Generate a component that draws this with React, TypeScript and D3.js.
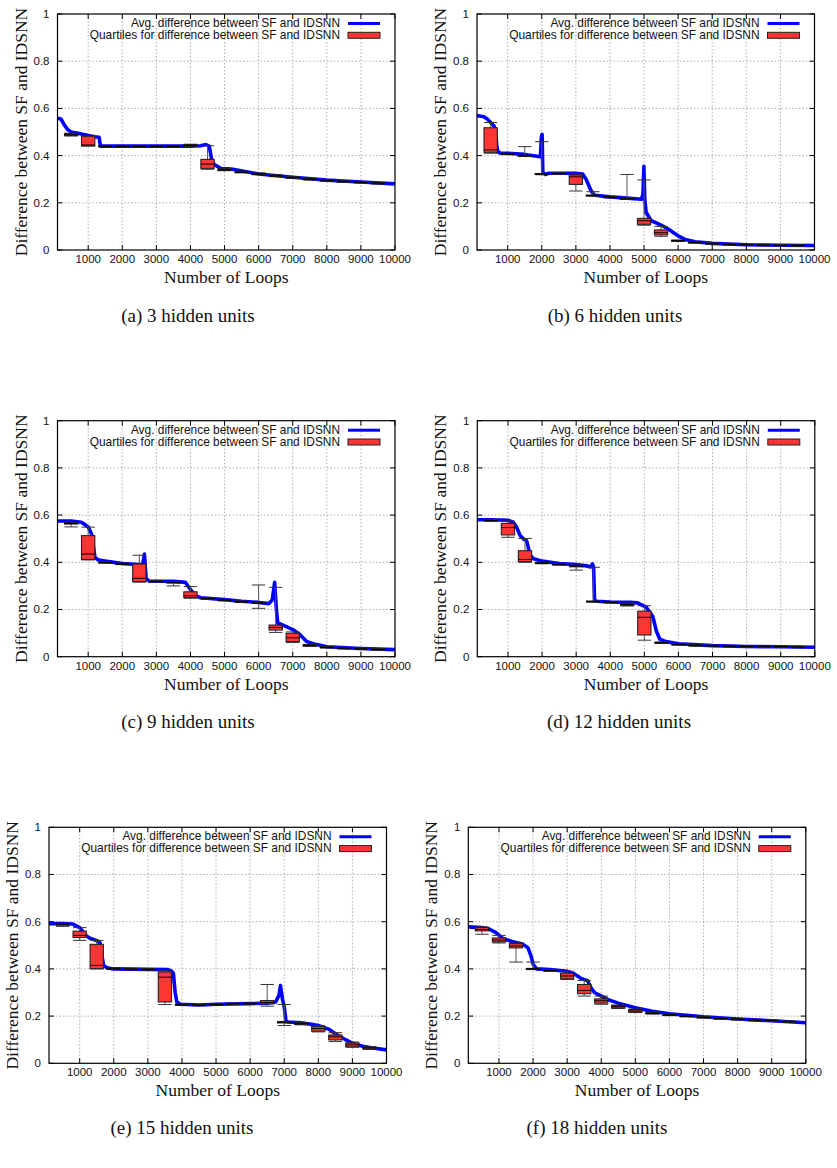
import React from "react";
import * as d3 from "d3";

// tick values shared by all six panels
const xTicks = [1000, 2000, 3000, 4000, 5000, 6000, 7000, 8000, 9000, 10000];
const yTicks = [0, 0.2, 0.4, 0.6, 0.8, 1];
const yTickLabels = ["0", "0.2", "0.4", "0.6", "0.8", "1"];
const legendLabels = [
  "Avg. difference between SF and IDSNN",
  "Quartiles for difference between SF and IDSNN",
];
const captions = [
  "(a) 3 hidden units",
  "(b) 6 hidden units",
  "(c) 9 hidden units",
  "(d) 12 hidden units",
  "(e) 15 hidden units",
  "(f) 18 hidden units",
];

// average curve: [loop, difference]
const avgA: [number, number][] = [
  [100, 0.558], [200, 0.555], [300, 0.53], [400, 0.51], [500, 0.5], [700, 0.495],
  [1000, 0.485], [1200, 0.48], [1320, 0.478], [1360, 0.44], [2000, 0.44], [3000, 0.44],
  [4000, 0.44], [4300, 0.442], [4450, 0.447], [4550, 0.44], [4620, 0.385], [4700, 0.362],
  [4900, 0.345], [5200, 0.343], [6000, 0.322], [7000, 0.308], [8000, 0.296], [9000, 0.288],
  [10000, 0.28],
];
const avgB: [number, number][] = [
  [100, 0.57], [300, 0.565], [400, 0.555], [500, 0.54], [600, 0.525], [650, 0.5],
  [680, 0.44], [720, 0.415], [800, 0.41], [1000, 0.41], [1500, 0.405], [1960, 0.395],
  [1990, 0.48], [2010, 0.49], [2030, 0.33], [2100, 0.32], [2200, 0.325], [3000, 0.325],
  [3200, 0.322], [3300, 0.3], [3450, 0.25], [3550, 0.232], [4000, 0.225], [4500, 0.22],
  [4930, 0.215], [4970, 0.24], [4995, 0.355], [5020, 0.22], [5060, 0.16], [5200, 0.125],
  [5500, 0.105], [5700, 0.09], [5900, 0.07], [6000, 0.06], [6200, 0.045], [6500, 0.035],
  [7000, 0.028], [8000, 0.022], [9000, 0.02], [10000, 0.019],
];
const avgC: [number, number][] = [
  [100, 0.575], [500, 0.575], [800, 0.57], [900, 0.56], [1000, 0.55], [1100, 0.52],
  [1150, 0.47], [1200, 0.42], [1300, 0.41], [1500, 0.405], [2000, 0.395], [2500, 0.39],
  [2600, 0.39], [2650, 0.435], [2700, 0.33], [2800, 0.32], [3500, 0.32], [3850, 0.315],
  [4000, 0.285], [4150, 0.258], [4300, 0.25], [5000, 0.242], [5500, 0.235], [6000, 0.23],
  [6300, 0.225], [6400, 0.24], [6470, 0.315], [6520, 0.2], [6560, 0.143], [6700, 0.135],
  [7000, 0.115], [7200, 0.095], [7400, 0.065], [7600, 0.055], [8000, 0.042], [9000, 0.035],
  [10000, 0.03],
];
const avgD: [number, number][] = [
  [100, 0.58], [500, 0.58], [1000, 0.578], [1150, 0.57], [1250, 0.55], [1350, 0.515],
  [1450, 0.5], [1550, 0.49], [1650, 0.43], [1750, 0.415], [2000, 0.405], [2500, 0.395],
  [3000, 0.39], [3300, 0.385], [3420, 0.38], [3480, 0.393], [3510, 0.38], [3540, 0.24],
  [3600, 0.235], [4000, 0.232], [4600, 0.23], [4800, 0.228], [5050, 0.21], [5150, 0.19],
  [5250, 0.17], [5350, 0.11], [5450, 0.075], [5600, 0.065], [6000, 0.055], [7000, 0.047],
  [8000, 0.043], [9000, 0.042], [10000, 0.04],
];
const avgE: [number, number][] = [
  [100, 0.592], [500, 0.592], [800, 0.59], [1000, 0.575], [1200, 0.54], [1300, 0.53],
  [1500, 0.52], [1600, 0.51], [1650, 0.46], [1700, 0.415], [1800, 0.405], [2000, 0.4],
  [3000, 0.398], [3600, 0.397], [3700, 0.39], [3750, 0.38], [3800, 0.3], [3850, 0.26],
  [3950, 0.25], [4500, 0.247], [5000, 0.25], [6000, 0.253], [6500, 0.255], [6750, 0.26],
  [6850, 0.29], [6890, 0.33], [6950, 0.27], [7000, 0.24], [7050, 0.18], [7100, 0.175],
  [7500, 0.172], [7800, 0.165], [8000, 0.16], [8300, 0.145], [8500, 0.125], [8800, 0.1],
  [9000, 0.085], [9300, 0.072], [9600, 0.065], [10000, 0.057],
];
const avgF: [number, number][] = [
  [100, 0.578], [500, 0.575], [700, 0.57], [900, 0.555], [1100, 0.53], [1400, 0.515],
  [1700, 0.505], [1850, 0.49], [1950, 0.45], [2000, 0.42], [2100, 0.4], [2500, 0.397],
  [3000, 0.39], [3200, 0.38], [3400, 0.36], [3600, 0.35], [3700, 0.32], [3800, 0.3],
  [4000, 0.285], [4200, 0.27], [4500, 0.255], [5000, 0.235], [5500, 0.22], [6000, 0.21],
  [7000, 0.197], [8000, 0.188], [9000, 0.18], [10000, 0.172],
];

// quartile boxes: [loop, min, q1, median, q3, max]
const boxesA: number[][] = [
  [500, 0.483, 0.485, 0.489, 0.493, 0.495], [1000, 0.441, 0.441, 0.445, 0.482, 0.482],
  [1500, 0.438, 0.438, 0.44, 0.442, 0.442], [2000, 0.438, 0.438, 0.44, 0.442, 0.442],
  [2500, 0.438, 0.438, 0.44, 0.442, 0.442], [3000, 0.438, 0.438, 0.44, 0.442, 0.442],
  [3500, 0.438, 0.438, 0.44, 0.442, 0.442], [4000, 0.439, 0.44, 0.443, 0.447, 0.448],
  [4500, 0.342, 0.346, 0.364, 0.384, 0.442], [5000, 0.336, 0.337, 0.34, 0.343, 0.344],
  [5500, 0.327, 0.328, 0.33, 0.333, 0.334], [6000, 0.319, 0.32, 0.322, 0.325, 0.326],
  [6500, 0.311, 0.312, 0.314, 0.317, 0.318], [7000, 0.304, 0.305, 0.307, 0.309, 0.31],
  [7500, 0.297, 0.298, 0.3, 0.302, 0.303], [8000, 0.292, 0.293, 0.295, 0.297, 0.298],
  [8500, 0.287, 0.288, 0.29, 0.292, 0.293], [9000, 0.284, 0.285, 0.287, 0.289, 0.29],
  [9500, 0.28, 0.281, 0.283, 0.285, 0.286],
];
const boxesB: number[][] = [
  [500, 0.41, 0.414, 0.424, 0.518, 0.54], [1000, 0.404, 0.405, 0.407, 0.409, 0.41],
  [1500, 0.396, 0.397, 0.399, 0.401, 0.438], [2000, 0.319, 0.32, 0.322, 0.324, 0.459],
  [2500, 0.321, 0.322, 0.324, 0.326, 0.327], [3000, 0.25, 0.278, 0.31, 0.318, 0.322],
  [3500, 0.228, 0.229, 0.231, 0.233, 0.247], [4000, 0.221, 0.222, 0.224, 0.226, 0.227],
  [4500, 0.214, 0.215, 0.217, 0.219, 0.32], [5000, 0.105, 0.109, 0.124, 0.134, 0.297],
  [5500, 0.058, 0.064, 0.073, 0.085, 0.1], [6000, 0.036, 0.037, 0.039, 0.041, 0.042],
  [6500, 0.029, 0.03, 0.032, 0.034, 0.035], [7000, 0.024, 0.025, 0.027, 0.029, 0.03],
  [7500, 0.021, 0.022, 0.024, 0.026, 0.027], [8000, 0.019, 0.02, 0.022, 0.024, 0.025],
  [8500, 0.018, 0.019, 0.021, 0.023, 0.024], [9000, 0.017, 0.018, 0.02, 0.022, 0.023],
  [9500, 0.016, 0.017, 0.019, 0.021, 0.022],
];
const boxesC: number[][] = [
  [500, 0.55, 0.562, 0.565, 0.568, 0.57], [1000, 0.41, 0.412, 0.435, 0.513, 0.549],
  [1500, 0.396, 0.397, 0.399, 0.401, 0.402], [2000, 0.39, 0.391, 0.393, 0.395, 0.396],
  [2500, 0.316, 0.318, 0.332, 0.393, 0.43], [3000, 0.316, 0.317, 0.319, 0.321, 0.322],
  [3500, 0.3, 0.312, 0.314, 0.316, 0.317], [4000, 0.248, 0.25, 0.258, 0.275, 0.297],
  [4500, 0.244, 0.245, 0.247, 0.249, 0.25], [5000, 0.237, 0.238, 0.24, 0.242, 0.243],
  [5500, 0.23, 0.231, 0.233, 0.235, 0.236], [6000, 0.205, 0.226, 0.228, 0.23, 0.304],
  [6500, 0.103, 0.113, 0.124, 0.134, 0.294], [7000, 0.06, 0.064, 0.08, 0.099, 0.105],
  [7500, 0.044, 0.045, 0.048, 0.051, 0.052], [8000, 0.037, 0.038, 0.04, 0.042, 0.043],
  [8500, 0.033, 0.034, 0.036, 0.038, 0.039], [9000, 0.03, 0.031, 0.033, 0.035, 0.036],
  [9500, 0.028, 0.029, 0.031, 0.033, 0.034],
];
const boxesD: number[][] = [
  [500, 0.574, 0.575, 0.577, 0.579, 0.58], [1000, 0.506, 0.516, 0.547, 0.565, 0.575],
  [1500, 0.4, 0.403, 0.412, 0.449, 0.501], [2000, 0.394, 0.395, 0.397, 0.399, 0.4],
  [2500, 0.388, 0.389, 0.391, 0.393, 0.394], [3000, 0.367, 0.381, 0.384, 0.387, 0.388],
  [3500, 0.231, 0.232, 0.234, 0.236, 0.379], [4000, 0.228, 0.229, 0.231, 0.233, 0.234],
  [4500, 0.215, 0.217, 0.221, 0.225, 0.227], [5000, 0.07, 0.092, 0.167, 0.193, 0.216],
  [5500, 0.056, 0.057, 0.059, 0.061, 0.062], [6000, 0.049, 0.05, 0.052, 0.054, 0.055],
  [6500, 0.045, 0.046, 0.048, 0.05, 0.051], [7000, 0.043, 0.044, 0.046, 0.048, 0.049],
  [7500, 0.042, 0.043, 0.045, 0.047, 0.048], [8000, 0.041, 0.042, 0.044, 0.046, 0.047],
  [8500, 0.04, 0.041, 0.043, 0.045, 0.046], [9000, 0.039, 0.04, 0.042, 0.044, 0.045],
  [9500, 0.038, 0.039, 0.041, 0.043, 0.044],
];
const boxesE: number[][] = [
  [500, 0.58, 0.586, 0.589, 0.592, 0.593], [1000, 0.521, 0.533, 0.542, 0.56, 0.575],
  [1500, 0.4, 0.401, 0.415, 0.504, 0.521], [2000, 0.397, 0.398, 0.4, 0.402, 0.403],
  [2500, 0.396, 0.397, 0.399, 0.401, 0.402], [3000, 0.395, 0.396, 0.398, 0.4, 0.401],
  [3500, 0.249, 0.26, 0.365, 0.387, 0.392], [4000, 0.245, 0.246, 0.248, 0.25, 0.251],
  [4500, 0.244, 0.245, 0.247, 0.249, 0.25], [5000, 0.246, 0.247, 0.249, 0.251, 0.252],
  [5500, 0.249, 0.25, 0.252, 0.254, 0.255], [6000, 0.25, 0.251, 0.253, 0.255, 0.256],
  [6500, 0.242, 0.252, 0.258, 0.266, 0.334], [7000, 0.16, 0.171, 0.174, 0.177, 0.249],
  [7500, 0.163, 0.165, 0.168, 0.171, 0.173], [8000, 0.133, 0.136, 0.147, 0.156, 0.16],
  [8500, 0.092, 0.099, 0.112, 0.12, 0.13], [9000, 0.068, 0.07, 0.078, 0.086, 0.09],
  [9500, 0.059, 0.061, 0.065, 0.068, 0.07],
];
const boxesF: number[][] = [
  [500, 0.547, 0.561, 0.567, 0.575, 0.578], [1000, 0.51, 0.514, 0.522, 0.531, 0.542],
  [1500, 0.429, 0.489, 0.497, 0.507, 0.51], [2000, 0.397, 0.398, 0.4, 0.402, 0.429],
  [2500, 0.39, 0.391, 0.393, 0.395, 0.396], [3000, 0.355, 0.358, 0.37, 0.382, 0.39],
  [3500, 0.285, 0.295, 0.309, 0.334, 0.351], [4000, 0.25, 0.255, 0.265, 0.273, 0.285],
  [4500, 0.232, 0.234, 0.24, 0.245, 0.247], [5000, 0.215, 0.217, 0.222, 0.228, 0.23],
  [5500, 0.209, 0.21, 0.212, 0.214, 0.215], [6000, 0.202, 0.203, 0.205, 0.207, 0.208],
  [6500, 0.197, 0.198, 0.2, 0.202, 0.203], [7000, 0.192, 0.193, 0.195, 0.197, 0.198],
  [7500, 0.187, 0.188, 0.19, 0.192, 0.193], [8000, 0.184, 0.185, 0.187, 0.189, 0.19],
  [8500, 0.18, 0.181, 0.183, 0.185, 0.186], [9000, 0.177, 0.178, 0.18, 0.182, 0.183],
  [9500, 0.173, 0.174, 0.176, 0.178, 0.179],
];

const PW = 337.5;
const PH = 236;
const BOX_W = 390;
const BLUE = "#0000ff";
const RED = "#ff3535";
const SANS = "'Liberation Sans', Arial, sans-serif";
const SERIF = "'Liberation Serif', 'Times New Roman', serif";

const panels = [
  { avg: avgA, boxes: boxesA, left: 57.5, top: 14, capX: 188, capY: 322 },
  { avg: avgB, boxes: boxesB, left: 477, top: 14, capX: 615, capY: 322 },
  { avg: avgC, boxes: boxesC, left: 57.5, top: 420.7, capX: 188, capY: 728 },
  { avg: avgD, boxes: boxesD, left: 477.3, top: 420.7, capX: 619, capY: 728 },
  { avg: avgE, boxes: boxesE, left: 49, top: 827.3, capX: 182, capY: 1134 },
  { avg: avgF, boxes: boxesF, left: 468.3, top: 827.3, capX: 597, capY: 1134 },
];

function Panel({ avg, boxes, left, top }: { avg: [number, number][]; boxes: number[][]; left: number; top: number }) {
  const x = d3.scaleLinear().domain([100, 10000]).range([0, PW]);
  const y = d3.scaleLinear().domain([0, 1]).range([PH, 0]);
  const line = d3.line<[number, number]>().x((d) => x(d[0])).y((d) => y(d[1]));
  const bw = x(100 + BOX_W) - x(100);

  return (
    <g transform={`translate(${left},${top})`}>
      {/* grid */}
      {xTicks.slice(0, -1).map((t) => (
        <line key={"gx" + t} x1={x(t)} x2={x(t)} y1={0} y2={PH} stroke="#9a9a9a" strokeWidth={0.8} strokeDasharray="1.5,2" />
      ))}
      {yTicks.slice(1, -1).map((t) => (
        <line key={"gy" + t} x1={0} x2={PW} y1={y(t)} y2={y(t)} stroke="#9a9a9a" strokeWidth={0.8} strokeDasharray="1.5,2" />
      ))}
      {/* tics, mirrored on all sides */}
      {xTicks.map((t) => (
        <g key={"tx" + t}>
          <line x1={x(t)} x2={x(t)} y1={PH} y2={PH - 5} stroke="#000" />
          <line x1={x(t)} x2={x(t)} y1={0} y2={5} stroke="#000" />
          <text x={x(t)} y={PH + 13} textAnchor="middle" fontFamily={SANS} fontSize={11.5} fill="#111">
            {t}
          </text>
        </g>
      ))}
      {yTicks.map((t, i) => (
        <g key={"ty" + t}>
          <line x1={0} x2={5} y1={y(t)} y2={y(t)} stroke="#000" />
          <line x1={PW} x2={PW - 5} y1={y(t)} y2={y(t)} stroke="#000" />
          <text x={-8} y={y(t) + 4} textAnchor="end" fontFamily={SANS} fontSize={11.5} fill="#111">
            {yTickLabels[i]}
          </text>
        </g>
      ))}
      {/* average curve */}
      <path d={line(avg) || ""} fill="none" stroke={BLUE} strokeWidth={3.6} strokeLinejoin="round" />
      {/* quartile boxes */}
      {boxes.map(([loop, mn, q1, md, q3, mx]) => {
        const cx = x(loop);
        return (
          <g key={"b" + loop}>
            <line x1={cx} x2={cx} y1={y(mx)} y2={y(q3)} stroke="#555" strokeWidth={1} />
            <line x1={cx} x2={cx} y1={y(q1)} y2={y(mn)} stroke="#555" strokeWidth={1} />
            <line x1={cx - bw / 2} x2={cx + bw / 2} y1={y(mx)} y2={y(mx)} stroke="#333" strokeWidth={1} />
            <line x1={cx - bw / 2} x2={cx + bw / 2} y1={y(mn)} y2={y(mn)} stroke="#333" strokeWidth={1} />
            <rect x={cx - bw / 2} y={y(q3)} width={bw} height={Math.max(0.5, y(q1) - y(q3))} fill={RED} stroke="#222" strokeWidth={1.1} />
            <line x1={cx - bw / 2} x2={cx + bw / 2} y1={y(md)} y2={y(md)} stroke="#000" strokeWidth={1} />
          </g>
        );
      })}
      {/* border */}
      <rect x={0} y={0} width={PW} height={PH} fill="none" stroke="#000" strokeWidth={1.2} />
      {/* axis titles */}
      <text x={PW / 2} y={PH + 33} textAnchor="middle" fontFamily={SERIF} fontSize={17.5} fill="#111">
        Number of Loops
      </text>
      <text transform={`translate(-31,${PH / 2}) rotate(-90)`} textAnchor="middle" fontFamily={SERIF} fontSize={17.5} fill="#111">
        Difference between SF and IDSNN
      </text>
      {/* legend */}
      <text x={PW - 55} y={13.2} textAnchor="end" fontFamily={SANS} fontSize={11.9} fill="#111">
        {legendLabels[0]}
      </text>
      <line x1={PW - 47} x2={PW - 15} y1={9.5} y2={9.5} stroke={BLUE} strokeWidth={3} />
      <text x={PW - 55} y={25} textAnchor="end" fontFamily={SANS} fontSize={11.9} fill="#111">
        {legendLabels[1]}
      </text>
      <rect x={PW - 47} y={18.3} width={32} height={6} fill={RED} stroke="#222" strokeWidth={1} />
    </g>
  );
}

export default function App() {
  return (
    <svg width={837} height={1168} style={{ position: "absolute", left: 0, top: 0, background: "#fff" }}>
      <rect width={837} height={1168} fill="#fff" />
      {panels.map((p, i) => (
        <g key={i}>
          <Panel avg={p.avg} boxes={p.boxes} left={p.left} top={p.top} />
          <text x={p.capX} y={p.capY} textAnchor="middle" fontFamily={SERIF} fontSize={19} fill="#111">
            {captions[i]}
          </text>
        </g>
      ))}
    </svg>
  );
}
